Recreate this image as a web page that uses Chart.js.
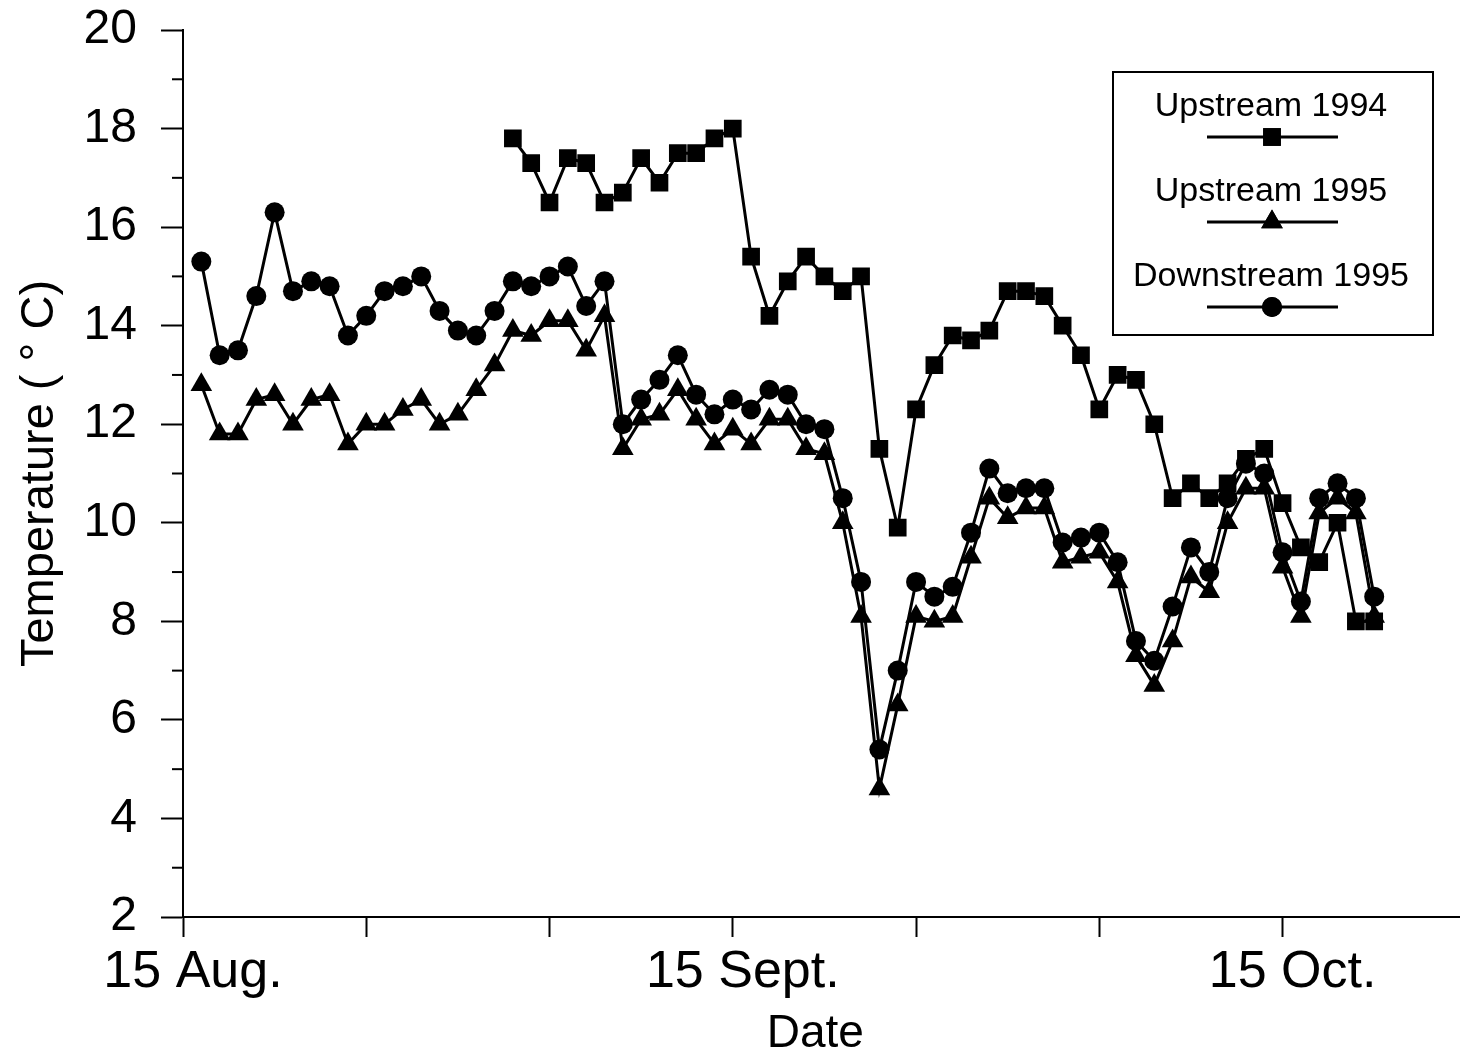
<!DOCTYPE html>
<html>
<head>
<meta charset="utf-8">
<title>Stream temperature</title>
<script src="https://cdn.jsdelivr.net/npm/chart.js@4/dist/chart.umd.min.js"></script>
<style>
  html, body { margin: 0; padding: 0; background: #fff; }
  #wrap { width: 1460px; height: 1062px; position: relative; }
</style>
</head>
<body>
<div id="wrap"><canvas id="chart" width="1460" height="1062"></canvas></div>
<script>
// Day number counted from 15 Aug.
const days = [
   1,  2,  3,  4,  5,  6,  7,  8,  9, 10,
  11, 12, 13, 14, 15, 16, 17, 18, 19, 20,
  21, 22, 23, 24, 25, 26, 27, 28, 29, 30,
  31, 32, 33, 34, 35, 36, 37, 38, 39, 40,
  41, 42, 43, 44, 45, 46, 47, 48, 49, 50,
  51, 52, 53, 54, 55, 56, 57, 58, 59, 60,
  61, 62, 63, 64, 65
];

// Daily water temperature, degrees C
const upstream1994 = [
  null, null, null, null, null, null, null, null, null, null,
  null, null, null, null, null, null, null, 17.8, 17.3, 16.5,
  17.4, 17.3, 16.5, 16.7, 17.4, 16.9, 17.5, 17.5, 17.8, 18.0,
  15.4, 14.2, 14.9, 15.4, 15.0, 14.7, 15.0, 11.5,  9.9, 12.3,
  13.2, 13.8, 13.7, 13.9, 14.7, 14.7, 14.6, 14.0, 13.4, 12.3,
  13.0, 12.9, 12.0, 10.5, 10.8, 10.5, 10.8, 11.3, 11.5, 10.4,
   9.5,  9.2, 10.0,  8.0,  8.0
];

const upstream1995 = [
  12.8, 11.8, 11.8, 12.5, 12.6, 12.0, 12.5, 12.6, 11.6, 12.0,
  12.0, 12.3, 12.5, 12.0, 12.2, 12.7, 13.2, 13.9, 13.8, 14.1,
  14.1, 13.5, 14.2, 11.5, 12.1, 12.2, 12.7, 12.1, 11.6, 11.9,
  11.6, 12.1, 12.1, 11.5, 11.4, 10.0,  8.1,  4.6,  6.3,  8.1,
   8.0,  8.1,  9.3, 10.5, 10.1, 10.3, 10.3,  9.2,  9.3,  9.4,
   8.8,  7.3,  6.7,  7.6,  8.9,  8.6, 10.0, 10.7, 10.7,  9.1,
   8.1, 10.2, 10.5, 10.2,  8.1
];

const downstream1995 = [
  15.3, 13.4, 13.5, 14.6, 16.3, 14.7, 14.9, 14.8, 13.8, 14.2,
  14.7, 14.8, 15.0, 14.3, 13.9, 13.8, 14.3, 14.9, 14.8, 15.0,
  15.2, 14.4, 14.9, 12.0, 12.5, 12.9, 13.4, 12.6, 12.2, 12.5,
  12.3, 12.7, 12.6, 12.0, 11.9, 10.5,  8.8,  5.4,  7.0,  8.8,
   8.5,  8.7,  9.8, 11.1, 10.6, 10.7, 10.7,  9.6,  9.7,  9.8,
   9.2,  7.6,  7.2,  8.3,  9.5,  9.0, 10.5, 11.2, 11.0,  9.4,
   8.4, 10.5, 10.8, 10.5,  8.5
];

// Labelled date ticks on the day axis
const dateTickDays = [0, 30, 60];
const dateTickNames = ['15 Aug.', '15 Sept.', '15 Oct.'];

// Unlabelled minor ticks on the temperature axis
const minorTempTicks = [3, 5, 7, 9, 11, 13, 15, 17, 19];

const FONT = "'Liberation Sans', Arial, Helvetica, sans-serif";

function toPoints(values) {
  return days.map((d, i) => ({ x: d, y: values[i] }));
}

function seriesStyle(style, radius) {
  return {
    borderColor: '#000',
    backgroundColor: '#000',
    borderWidth: 3,
    pointStyle: style,
    pointRadius: radius,
    pointHoverRadius: radius,
    pointBackgroundColor: '#000',
    pointBorderColor: '#000',
    pointBorderWidth: 0,
    tension: 0,
    fill: false,
    spanGaps: false
  };
}

// Short ticks between the labelled temperature ticks, and the date axis
// line carried on to the right edge of the canvas
const axisExtrasPlugin = {
  id: 'axisExtras',
  afterDraw(chart) {
    const ys = chart.scales.y;
    const xs = chart.scales.x;
    const ctx = chart.ctx;
    ctx.save();
    ctx.strokeStyle = '#000';
    ctx.lineWidth = 2;
    minorTempTicks.forEach(v => {
      const py = ys.getPixelForValue(v);
      ctx.beginPath();
      ctx.moveTo(ys.right - 11, py);
      ctx.lineTo(ys.right, py);
      ctx.stroke();
    });
    const axisY = Math.round(xs.top);
    ctx.beginPath();
    ctx.moveTo(xs.right - 2, axisY);
    ctx.lineTo(chart.width, axisY);
    ctx.stroke();
    ctx.restore();
  }
};

// Boxed legend: name on top, line sample with marker underneath
const boxLegendPlugin = {
  id: 'boxLegend',
  afterDraw(chart) {
    const ctx = chart.ctx;
    const box = { left: 1113, top: 72, right: 1433, bottom: 335 };
    const cx = 1272;
    ctx.save();
    ctx.strokeStyle = '#000';
    ctx.lineWidth = 2;
    ctx.strokeRect(box.left, box.top, box.right - box.left, box.bottom - box.top);
    ctx.fillStyle = '#000';
    ctx.font = '34px ' + FONT;
    ctx.textAlign = 'center';
    ctx.textBaseline = 'alphabetic';
    chart.data.datasets.forEach((ds, i) => {
      const base = 116 + i * 85;
      const ly = 137 + i * 85;
      ctx.fillText(ds.label, 1271, base);
      ctx.beginPath();
      ctx.lineWidth = 3;
      ctx.moveTo(1207, ly);
      ctx.lineTo(1338, ly);
      ctx.stroke();
      Chart.helpers.drawPoint(ctx, {
        pointStyle: ds.pointStyle,
        radius: ds.pointRadius,
        rotation: 0,
        borderWidth: 0
      }, cx, ly);
      ctx.fill();
    });
    ctx.restore();
  }
};

new Chart(document.getElementById('chart'), {
  type: 'line',
  data: {
    datasets: [
      Object.assign({ label: 'Upstream 1994', data: toPoints(upstream1994) }, seriesStyle('rect', 12.5)),
      Object.assign({ label: 'Upstream 1995', data: toPoints(upstream1995) }, seriesStyle('triangle', 12.5)),
      Object.assign({ label: 'Downstream 1995', data: toPoints(downstream1995) }, seriesStyle('circle', 10))
    ]
  },
  options: {
    responsive: false,
    animation: false,
    devicePixelRatio: 1,
    layout: { padding: { left: 0, top: 30, right: 0, bottom: 0 } },
    plugins: {
      legend: { display: false },
      tooltip: { enabled: false }
    },
    scales: {
      x: {
        type: 'linear',
        position: 'bottom',
        min: 0,
        max: 69,
        grid: {
          display: true,
          drawOnChartArea: false,
          drawTicks: true,
          tickLength: 20,
          tickWidth: 2,
          tickColor: '#000',
          color: '#000'
        },
        border: { display: true, color: '#000', width: 2 },
        ticks: {
          stepSize: 10,
          includeBounds: false,
          autoSkip: false,
          maxRotation: 0,
          minRotation: 0,
          color: '#000',
          padding: 4,
          labelOffset: 10,
          font: { family: FONT, size: 52 },
          callback: (v) => {
            const k = dateTickDays.indexOf(v);
            return k < 0 ? '' : dateTickNames[k];
          }
        },
        title: {
          display: true,
          text: 'Date',
          color: '#000',
          font: { family: FONT, size: 46 },
          padding: { top: 0, bottom: 0 }
        },
        afterFit(scale) {
          scale.height = 145;
          scale.paddingLeft = 0;
          scale.paddingRight = 0;
        }
      },
      y: {
        type: 'linear',
        min: 2,
        max: 20,
        grid: {
          display: true,
          drawOnChartArea: false,
          drawTicks: true,
          tickLength: 22,
          tickWidth: 2,
          tickColor: '#000',
          color: '#000'
        },
        border: { display: true, color: '#000', width: 2 },
        ticks: {
          stepSize: 2,
          autoSkip: false,
          color: '#000',
          padding: 24,
          font: { family: FONT, size: 48 }
        },
        title: {
          display: true,
          text: 'Temperature ( ° C)',
          color: '#000',
          font: { family: FONT, size: 47 },
          padding: { top: 12, bottom: 0 }
        },
        afterFit(scale) {
          scale.width = 183;
          scale.paddingTop = 0;
          scale.paddingBottom = 0;
        }
      }
    }
  },
  plugins: [axisExtrasPlugin, boxLegendPlugin]
});
</script>
</body>
</html>
